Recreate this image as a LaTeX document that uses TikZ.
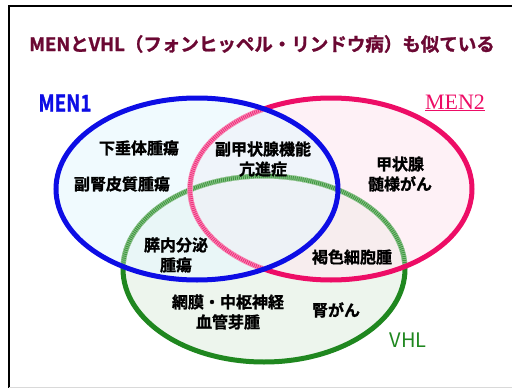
\documentclass[tikz,border=0pt]{standalone}
\usepackage{fontspec}
\setmainfont{Noto Sans CJK JP}[BoldFont={Noto Sans CJK JP Bold}, BoldFeatures={FakeBold=1.2}]
\newfontfamily\menserif{Liberation Serif}
\usepackage{tikz,xcolor}
\usetikzlibrary{positioning}

\begin{document}
\begin{tikzpicture}[x=1pt, y=-1pt]

\definecolor{titlecolor}{rgb}{0.42, 0.03, 0.2}
\definecolor{menblue}{rgb}{0.05, 0.05, 0.9}
\definecolor{menred}{rgb}{0.93, 0.05, 0.4}
\definecolor{vhlgreen}{rgb}{0.12, 0.53, 0.12}

\tikzstyle{ring} = [line width=5pt]
\tikzstyle{hatch} = [line width=4pt, dash pattern=on 1pt off 1pt]
\tikzstyle{disease} = [font=\bfseries\fontsize{16}{20}\selectfont, align=center, text=black, inner sep=0pt]
\tikzstyle{setname} = [font=\fontsize{20}{20}\selectfont, inner sep=0pt]

\useasboundingbox (0,0) rectangle (512,388);

% frame
\draw[line width=2.5pt] (512,6) -- (9,6) -- (9,388);
\draw[black!15, line width=1pt] (9,387.5) -- (512,387.5);

\coordinate (cMEN1) at (197,189);
\coordinate (cMEN2) at (331,189);
\coordinate (cVHL) at (264,269);

% fills
\fill[vhlgreen!10, fill opacity=0.8] (cVHL) ellipse (141pt and 93pt);
\fill[menred!10, fill opacity=0.6] (cMEN2) ellipse (141pt and 91pt);
\fill[cyan!10, fill opacity=0.6] (cMEN1) ellipse (141pt and 91pt);

% VHL ring, hatched where it runs behind MEN1 and MEN2
\draw[ring, vhlgreen] (cVHL) ellipse (141pt and 93pt);
\begin{scope}
  \clip (cMEN2) ellipse (141pt and 91pt);
  \draw[ring, white] (cVHL) ellipse (141pt and 93pt);
  \draw[ring, vhlgreen!50] (cVHL) ellipse (141pt and 93pt);
  \draw[hatch, vhlgreen!85] (cVHL) ellipse (141pt and 93pt);
\end{scope}
\begin{scope}
  \clip (cMEN1) ellipse (141pt and 91pt);
  \draw[ring, white] (cVHL) ellipse (141pt and 93pt);
  \draw[ring, vhlgreen!50] (cVHL) ellipse (141pt and 93pt);
  \draw[hatch, vhlgreen!85] (cVHL) ellipse (141pt and 93pt);
\end{scope}

% MEN2 ring, hatched behind MEN1
\draw[ring, menred] (cMEN2) ellipse (141pt and 91pt);
\begin{scope}
  \clip (cMEN1) ellipse (141pt and 91pt);
  \draw[ring, white] (cMEN2) ellipse (141pt and 91pt);
  \draw[ring, menred!45] (cMEN2) ellipse (141pt and 91pt);
  \draw[hatch, menred!85] (cMEN2) ellipse (141pt and 91pt);
\end{scope}

% MEN1 ring
\draw[ring, menblue] (cMEN1) ellipse (141pt and 91pt);

\node[anchor=west, inner sep=0pt, text=titlecolor, font=\bfseries\fontsize{18.5}{20}\selectfont] (title) at (29,44) {MENとVHL（フォンヒッペル・リンドウ病）も似ている};

\node[setname, text=menblue, font=\bfseries\fontsize{23}{23}\selectfont, xscale=0.82, transform shape] (men1) at (65,103) {MEN1};
\node[setname, text=menred, font=\menserif\fontsize{22}{22}\selectfont] (men2) at (455,103) {\underline{MEN2}};
\node[setname, text=vhlgreen] (vhl) at (408,340) {VHL};

\node[disease] (pituitary) at (139,148) {下垂体腫瘍};
\node[disease] (adrenal) at (122,184) {副腎皮質腫瘍};
\node[disease] (parathyroid) at (263,159) {副甲状腺機能\\亢進症};
\node[disease] (medullary) at (400,174) {甲状腺\\髄様がん};
\node[disease] (pancreas) at (176,255) {膵内分泌\\腫瘍};
\node[disease] (pheo) at (352,257) {褐色細胞腫};
\node[disease] (hemangio) at (228,312) {網膜・中枢神経\\血管芽腫};
\node[disease] (renal) at (336,310) {腎がん};

\end{tikzpicture}
\end{document}
